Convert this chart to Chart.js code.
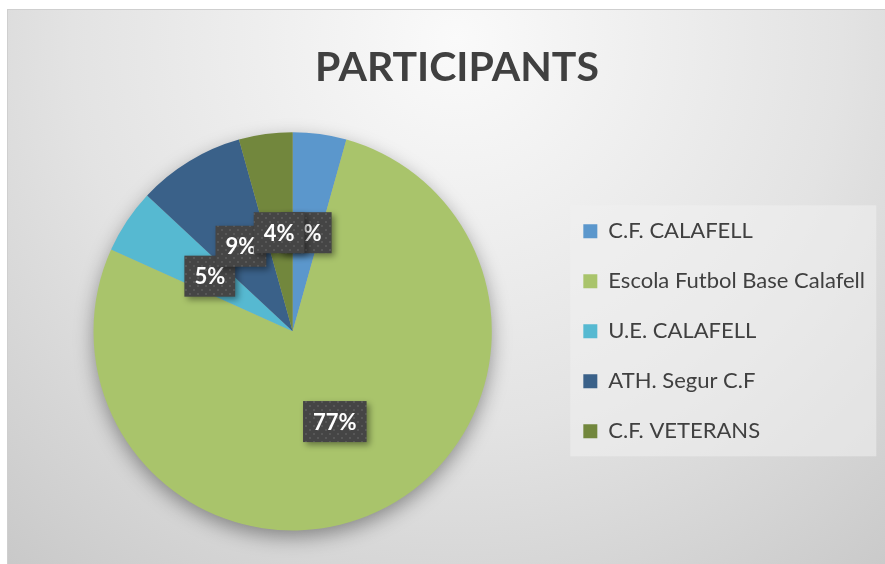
<!DOCTYPE html>
<html>
<head>
<meta charset="utf-8">
<script src="https://cdn.jsdelivr.net/npm/chart.js@4.4.1/dist/chart.umd.min.js"></script>
<style>
  html, body { margin: 0; padding: 0; background: #fff; }
  canvas { display: block; }
</style>
</head>
<body>
<canvas id="chart" width="885" height="564"></canvas>
<script>
// data
const teams = ['C.F. CALAFELL', 'Escola Futbol Base Calafell', 'U.E. CALAFELL', 'ATH. Segur C.F', 'C.F. VETERANS'];
const participants = [10, 178, 12, 20, 10];
const sliceColours = ['#5b97cc', '#a9c46b', '#56b9d1', '#3a6189', '#72873d'];
const chartTitle = 'PARTICIPANTS';

const FONT = 'Lato, "Open Sans", sans-serif';

function dotPattern(ctx) {
    const p = document.createElement('canvas');
    p.width = 8; p.height = 8;
    const g = p.getContext('2d');
    g.fillStyle = '#454545';
    g.fillRect(0, 0, 8, 8);
    g.fillStyle = '#575757';
    g.fillRect(1, 1, 2, 2);
    g.fillRect(5, 5, 2, 2);
    return ctx.createPattern(p, 'repeat');
}

// grey frame with soft gradient + legend panel
const frame = {
    id: 'frame',
    afterLayout(chart) {
        // title centred on the frame, not on the chart area
        chart.titleBlock.left = 7;
        chart.titleBlock.right = 907;
    },
    beforeDraw(chart) {
        const ctx = chart.ctx;
        ctx.save();
        ctx.fillStyle = '#fff';
        ctx.fillRect(0, 0, chart.width, chart.height);
        const g = ctx.createRadialGradient(457, 40, 0, 457, 40, 700);
        g.addColorStop(0, '#fafafa');
        g.addColorStop(0.55, '#e3e3e3');
        g.addColorStop(1, '#c8c8c8');
        ctx.fillStyle = g;
        ctx.fillRect(7.5, 9.5, chart.width, chart.height);
        ctx.strokeStyle = '#cfcfcf';
        ctx.lineWidth = 1;
        ctx.strokeRect(7.5, 9.5, chart.width, chart.height);

        const hb = chart.legend.legendHitBoxes;
        if (hb && hb.length) {
            const x0 = hb[0].left - 13;
            const y0 = hb[0].top - 15;
            const last = hb[hb.length - 1];
            const y1 = last.top + last.height + 14;
            ctx.fillStyle = 'rgba(240,240,240,0.55)';
            ctx.fillRect(x0, y0, 306, y1 - y0);
        }
        ctx.restore();
    },
    beforeDatasetsDraw(chart) {
        const arc = chart.getDatasetMeta(0).data[0];
        if (!arc) return;
        const ctx = chart.ctx;
        ctx.save();
        ctx.shadowColor = 'rgba(0,0,0,0.4)';
        ctx.shadowBlur = 20;
        ctx.shadowOffsetY = 7;
        ctx.fillStyle = '#aaa';
        ctx.beginPath();
        ctx.arc(arc.x, arc.y, arc.outerRadius - 1, 0, Math.PI * 2);
        ctx.fill();
        ctx.restore();
    }
};

// percentage labels in dark boxes
const pctLabels = {
    id: 'pctLabels',
    afterDatasetsDraw(chart) {
        const ctx = chart.ctx;
        const meta = chart.getDatasetMeta(0);
        const total = participants.reduce((a, b) => a + b, 0);
        const pattern = dotPattern(ctx);
        ctx.save();
        ctx.font = 'bold 22px ' + FONT;
        meta.data.forEach((arc, i) => {
            const pos = arc.tooltipPosition();
            const txt = Math.round(participants[i] / total * 100) + '%';
            const w = ctx.measureText(txt).width + 20;
            const h = 41;
            ctx.save();
            ctx.shadowColor = 'rgba(0,0,0,0.4)';
            ctx.shadowBlur = 6;
            ctx.shadowOffsetX = 3;
            ctx.shadowOffsetY = 3;
            ctx.fillStyle = pattern;
            ctx.fillRect(pos.x - w / 2, pos.y - h / 2, w, h);
            ctx.restore();
            ctx.fillStyle = '#fff';
            ctx.textAlign = 'center';
            ctx.textBaseline = 'middle';
            ctx.fillText(txt, pos.x, pos.y + 1);
        });
        ctx.restore();
    }
};

const chart = new Chart(document.getElementById('chart'), {
    type: 'pie',
    data: {
        labels: teams,
        datasets: [{
            data: participants,
            backgroundColor: sliceColours,
            borderWidth: 0
        }]
    },
    options: {
        responsive: false,
        animation: false,
        layout: {
            padding: { left: 30, right: 10, top: 20, bottom: 33.5 }
        },
        plugins: {
            title: {
                display: true,
                text: chartTitle,
                color: '#404040',
                font: { family: FONT, size: 41, weight: 'bold' },
                padding: { top: 23, bottom: 40 }
            },
            legend: {
                position: 'right',
                fullSize: false,
                labels: {
                    boxWidth: 14,
                    boxHeight: 14,
                    padding: 28,
                    color: '#404040',
                    font: { family: FONT, size: 22 }
                }
            },
            tooltip: { enabled: false }
        }
    },
    plugins: [frame, pctLabels]
});
</script>
</body>
</html>
